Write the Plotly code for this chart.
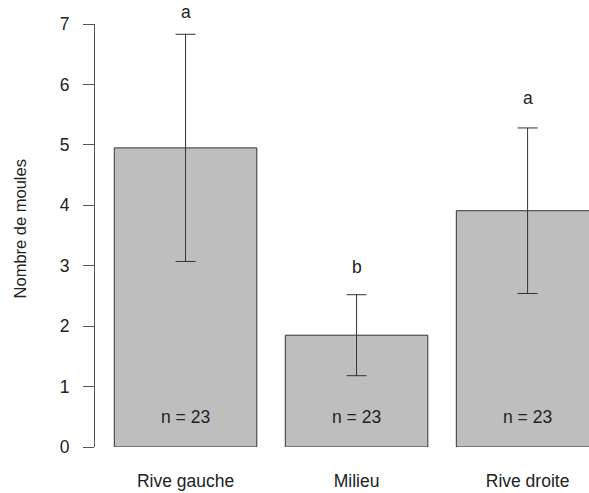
import plotly.graph_objects as go

categories = ["Rive gauche", "Milieu", "Rive droite"]
means = [4.95, 1.85, 3.91]
errors = [1.88, 0.67, 1.37]
letters = ["a", "b", "a"]
letter_y = [7.09, 2.87, 5.66]
n_labels = ["n = 23", "n = 23", "n = 23"]
y_ticks = [0, 1, 2, 3, 4, 5, 6, 7]

# R barplot style positions: width 1, space 0.2
xpos = [0.7 + 1.2 * i for i in range(len(categories))]
YMAX = max(y_ticks)

FONT = "Liberation Sans, Arial, Helvetica, sans-serif"
TXT = "#222222"
FS = 17.5

fig = go.Figure()
fig.add_trace(go.Bar(
    x=xpos, y=means, width=1.0,
    marker=dict(color="#bebebe", line=dict(color="#333333", width=1)),
    error_y=dict(type="data", array=errors, visible=True,
                 color="#333333", thickness=1, width=10),
    hoverinfo="skip", showlegend=False,
))

annotations = []
for x, ly, lt, nl in zip(xpos, letter_y, letters, n_labels):
    # paper coordinates so labels above the axis range stay visible
    annotations.append(dict(x=x, y=ly / YMAX, xref="x", yref="paper", text=lt,
                            showarrow=False, yanchor="bottom", yshift=-5,
                            font=dict(family=FONT, size=FS, color=TXT)))
    annotations.append(dict(x=x, y=0.5, xref="x", yref="y", text=nl,
                            showarrow=False, yanchor="middle",
                            font=dict(family=FONT, size=FS, color=TXT)))
annotations.append(dict(x=0, y=3.6, xref="paper", yref="y",
                        text="Nombre de moules", textangle=-90,
                        showarrow=False, xanchor="center", yanchor="middle",
                        xshift=-75,
                        font=dict(family=FONT, size=16.5, color=TXT)))

fig.update_layout(
    width=589, height=493,
    margin=dict(l=95, r=0, t=24, b=46, autoexpand=False),
    paper_bgcolor="white", plot_bgcolor="white",
    font=dict(family=FONT, size=FS, color=TXT),
    annotations=annotations,
    xaxis=dict(range=[0.0646, 3.531], tickvals=xpos, ticktext=categories,
               showgrid=False, zeroline=False, showline=False, ticks="",
               ticklabelstandoff=21, tickfont=dict(size=FS, color=TXT)),
    yaxis=dict(range=[0, YMAX], tickvals=y_ticks, showgrid=False,
               zeroline=False, showline=True, linecolor="#555555", linewidth=1,
               ticks="outside", ticklen=11, tickcolor="#555555", tickwidth=1,
               ticklabelstandoff=10, tickfont=dict(size=FS, color=TXT)),
)

fig.write_html("out.html")
